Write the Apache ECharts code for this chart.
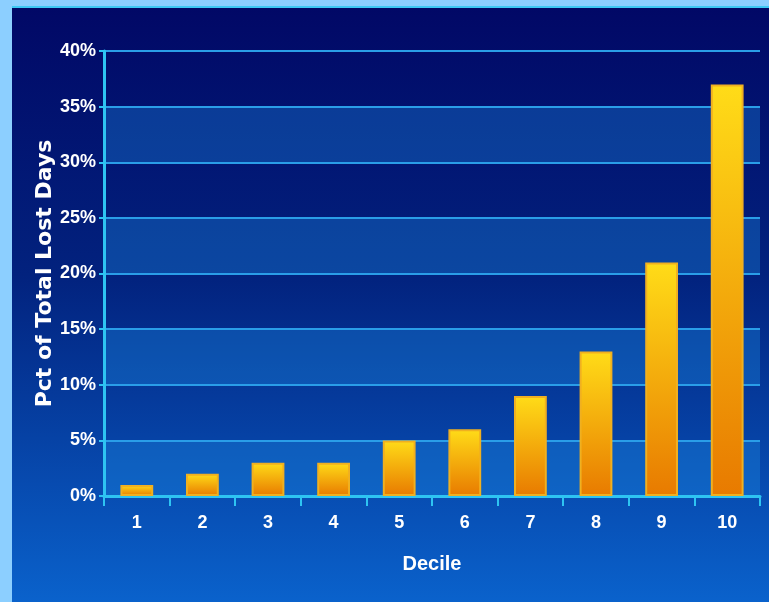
<!DOCTYPE html>
<html>
<head>
<meta charset="utf-8">
<script src="https://cdn.jsdelivr.net/npm/echarts@6/dist/echarts.min.js"></script>
<style>
  html, body { margin: 0; padding: 0; background: #8ccfff; }
  #main { position: absolute; left: 12px; top: 6px; width: 757px; height: 596px; border-top: 2px solid #3ec8f4; box-sizing: border-box; }
</style>
</head>
<body>
<div id="main"></div>
<script>
var deciles = ['1', '2', '3', '4', '5', '6', '7', '8', '9', '10'];
var lostDaysPct = [1, 2, 3, 3, 5, 6, 9, 13, 21, 37];

var chart = echarts.init(document.getElementById('main'));
var labelFont = "'Liberation Sans Narrow', 'Liberation Sans', Arial, sans-serif";

chart.setOption({
  backgroundColor: new echarts.graphic.LinearGradient(0, 0, 0, 1, [
    { offset: 0, color: '#010866' },
    { offset: 0.45, color: '#02227e' },
    { offset: 1, color: '#0a62cc' }
  ]),
  grid: { left: 92, right: 9, top: 43, bottom: 106 },
  xAxis: {
    type: 'category',
    data: deciles,
    name: 'Decile',
    nameLocation: 'middle',
    nameGap: 58,
    nameTextStyle: { color: '#ffffff', fontSize: 20, fontWeight: 'bold', fontFamily: labelFont },
    axisLine: { show: true, lineStyle: { color: '#2ec4f2', width: 3 } },
    axisTick: { show: true, length: 10, lineStyle: { color: '#2ec4f2', width: 2 } },
    axisLabel: { color: '#ffffff', fontSize: 18, fontWeight: 'bold', fontFamily: labelFont, margin: 18 },
    splitLine: { show: false }
  },
  yAxis: {
    type: 'value',
    min: 0,
    max: 40,
    interval: 5,
    name: 'Pct of Total Lost Days',
    nameLocation: 'middle',
    nameGap: 48,
    nameMoveOverlap: false,
    nameTextStyle: { color: '#ffffff', fontSize: 22, fontWeight: 'bold', fontFamily: "'DejaVu Sans', sans-serif" },
    axisLine: { show: true, lineStyle: { color: '#2ec4f2', width: 3 } },
    axisTick: { show: true, length: 5, lineStyle: { color: '#2ec4f2', width: 2 } },
    axisLabel: { color: '#ffffff', fontSize: 18, fontWeight: 'bold', fontFamily: labelFont, margin: 8, formatter: '{value}%' },
    splitLine: { show: true, lineStyle: { color: '#2a9ee8', width: 2 } },
    splitArea: { show: true, areaStyle: { color: ['rgba(30,150,235,0.32)', 'rgba(0,0,0,0)'] } }
  },
  series: [{
    type: 'bar',
    data: lostDaysPct,
    barWidth: '50%',
    itemStyle: {
      color: new echarts.graphic.LinearGradient(0, 0, 0, 1, [
        { offset: 0, color: '#ffdc18' },
        { offset: 1, color: '#e87a00' }
      ]),
      borderColor: '#f0b020',
      borderWidth: 2
    }
  }]
});
</script>
</body>
</html>
